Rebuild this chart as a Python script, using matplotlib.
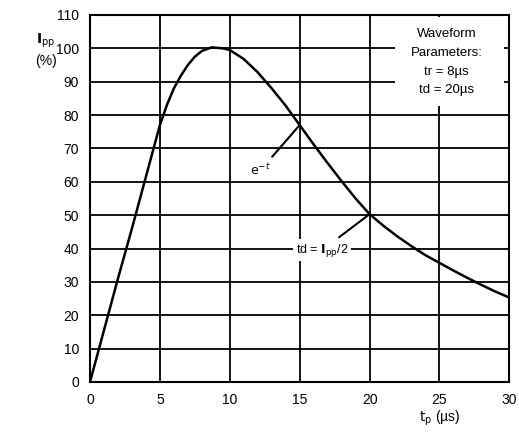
import numpy as np
import matplotlib.pyplot as plt
from matplotlib.patches import Rectangle

plt.rcParams['font.family'] = ['Liberation Sans', 'DejaVu Sans']

# 8/20 us pulse waveform
t_us = [0, 1, 2, 3, 4, 5, 5.5, 6, 6.5, 7, 7.5, 8, 8.7, 9.5, 10, 11, 12, 13, 14, 15, 16, 17,
        18, 19, 20, 21, 22, 23, 24, 25, 26, 27, 28, 29, 30]
ipp_pct = [0, 15.5, 31, 46, 61.5, 77, 83, 88, 91.8, 95, 97.5, 99.2, 100.3, 100, 99.5, 96.8,
           92.8, 88, 82.8, 77, 71.2, 65.6, 60.2, 55, 50.3, 46.8, 43.6, 40.7, 38, 35.7, 33.4,
           31.2, 29.1, 27.1, 25.3]

xticks = [0, 5, 10, 15, 20, 25, 30]
yticks = list(range(0, 111, 10))

fig = plt.figure(figsize=(5.19, 4.33), dpi=100)
ax = fig.add_axes([0.1734, 0.1178, 0.808, 0.8476])

ax.plot(t_us, ipp_pct, color='black', lw=1.8, zorder=3)

ax.set_xlim(0, 30)
ax.set_ylim(0, 110)
ax.set_xticks(xticks)
ax.set_yticks(yticks)
ax.grid(True, color='black', lw=1.3)
ax.set_axisbelow(True)
for s in ax.spines.values():
    s.set_linewidth(1.5)
ax.tick_params(length=0, pad=8, labelsize=10)

# Labels
ax.text(-0.105, 0.905, r'$\mathbf{I}_{\mathrm{pp}}$' + '\n(%)', transform=ax.transAxes,
        ha='center', va='center', fontsize=10, linespacing=1.4)
ax.text(25, -8, r'$\mathrm{t_p}$ (µs)', ha='center', va='top', fontsize=10, clip_on=False)

# Waveform parameters box (white patch hides the grid behind it)
ax.add_patch(Rectangle((21.8, 82.8), 7.8, 26.6, facecolor='white', edgecolor='none', zorder=2))
ax.text(25.5, 95.8, 'Waveform\nParameters:\ntr = 8µs\ntd = 20µs',
        ha='center', va='center', fontsize=9.5, linespacing=1.75, zorder=4)

# Annotations
ax.annotate(r'$\mathrm{e}^{-t}$', xy=(15, 77), xytext=(12.2, 63.5), fontsize=9,
            ha='center', va='center', zorder=4,
            bbox=dict(facecolor='white', edgecolor='none', pad=1),
            arrowprops=dict(arrowstyle='-', color='black', lw=1.5, shrinkA=4, shrinkB=0))
ax.annotate(r'td = $\mathbf{I}_{\mathrm{pp}}$/2', xy=(20, 50.3), xytext=(16.6, 39.5), fontsize=9,
            ha='center', va='center', zorder=4,
            bbox=dict(facecolor='white', edgecolor='none', pad=2),
            arrowprops=dict(arrowstyle='-', color='black', lw=1.5, shrinkA=2, shrinkB=0))

fig.savefig('out.png', dpi=100, facecolor='white')
